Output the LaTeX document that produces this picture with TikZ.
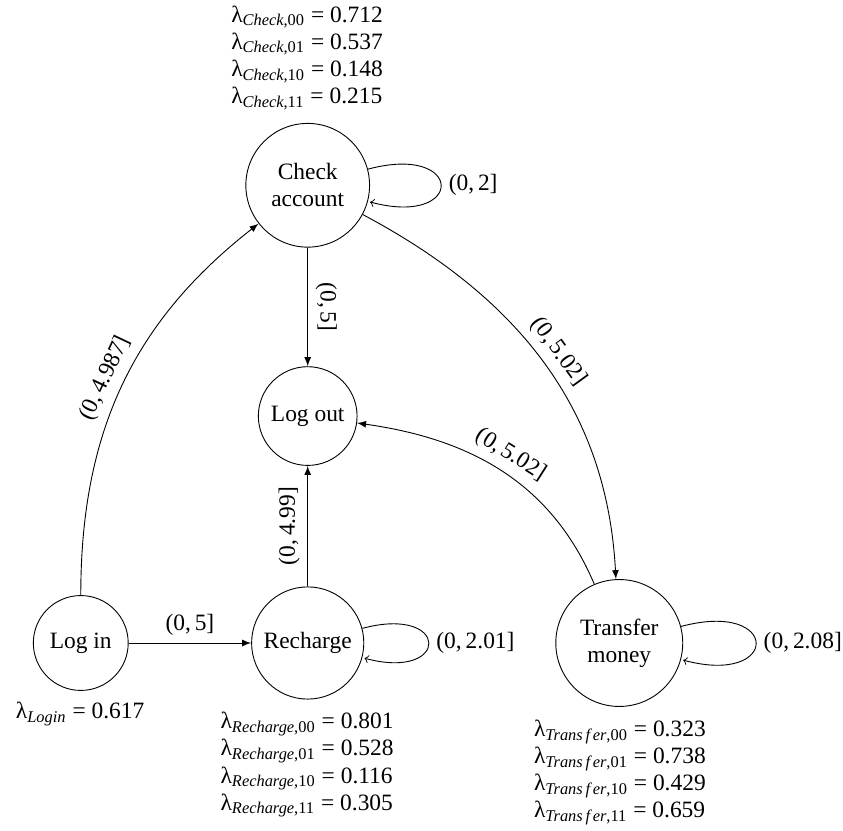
\documentclass[tikz,border=0pt]{standalone}
\usepackage{fontspec}
\setmainfont{Liberation Serif}
\usetikzlibrary{arrows}

\begin{document}
\begin{tikzpicture}[
  font=\fontsize{10.4}{12}\selectfont,
  state/.style={circle,draw,inner sep=1pt,align=center},
  rate/.style={align=left}
]
  \useasboundingbox (0,0) rectangle (13.15,-12.95);
  \node[state,minimum size=1.93cm] (check) at (4.80,-2.89) {Check\\account};
  \node[state,minimum size=1.54cm] (logout) at (4.80,-6.49) {Log out};
  \node[state,minimum size=1.48cm] (login) at (1.26,-10.03) {Log in};
  \node[state,minimum size=1.75cm] (recharge) at (4.80,-10.03) {Recharge};
  \node[state,minimum size=1.98cm] (transfer) at (9.66,-10.03) {Transfer\\money};
  % rates of the states
  \node[rate] (rcheck) at (4.79,-0.90) {λ\textsubscript{\textit{Check},00} = 0.712\\λ\textsubscript{\textit{Check},01} = 0.537\\λ\textsubscript{\textit{Check},10} = 0.148\\λ\textsubscript{\textit{Check},11} = 0.215};
  \node[rate] (rlogin) at (1.25,-11.14) {λ\textsubscript{\textit{Login}} = 0.617};
  \node[rate] (rrecharge) at (4.79,-11.93) {λ\textsubscript{\textit{Recharge},00} = 0.801\\λ\textsubscript{\textit{Recharge},01} = 0.528\\λ\textsubscript{\textit{Recharge},10} = 0.116\\λ\textsubscript{\textit{Recharge},11} = 0.305};
  \node[rate] (rtransfer) at (9.67,-12.05) {λ\textsubscript{\textit{Trans\,f\,er},00} = 0.323\\λ\textsubscript{\textit{Trans\,f\,er},01} = 0.738\\λ\textsubscript{\textit{Trans\,f\,er},10} = 0.429\\λ\textsubscript{\textit{Trans\,f\,er},11} = 0.659};
  % transitions
  \draw[-latex] (login) to[out=90,in=218] node[sloped,above,pos=0.5] {(0,\,4.987]} (check);
  \draw[-latex] (check) -- node[sloped,above] {(0,\,5]} (logout);
  \draw[-latex] (check) to[out=-28,in=93] node[sloped,above,pos=0.5] {(0,\,5.02]} (transfer);
  \draw[-latex] (transfer) to[out=113,in=-8] node[sloped,above,pos=0.5] {(0,\,5.02]} (logout);
  \draw[-latex] (recharge) -- node[sloped,above] {(0,\,4.99]} (logout);
  \draw[-latex] (login) -- node[above] {(0,\,5]} (recharge);
  \draw[->] (check) edge[loop right] node[right] {(0,\,2]} (check);
  \draw[->] (recharge) edge[loop right] node[right] {(0,\,2.01]} (recharge);
  \draw[->] (transfer) edge[loop right] node[right] {(0,\,2.08]} (transfer);
\end{tikzpicture}
\end{document}
